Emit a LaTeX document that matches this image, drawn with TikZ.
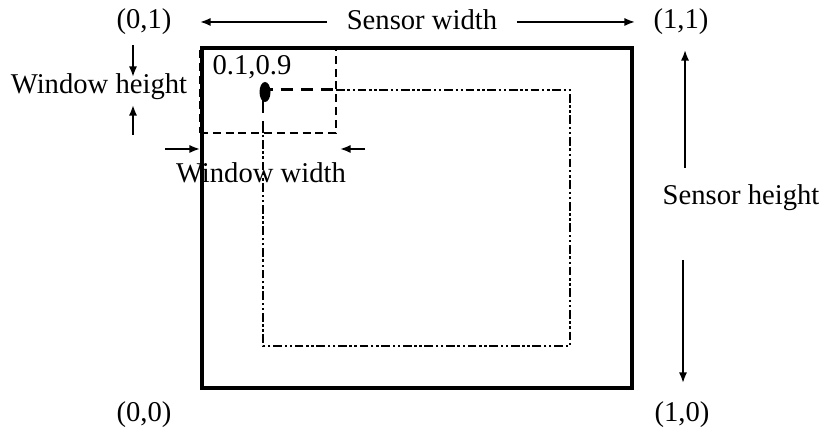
\documentclass[tikz,border=0pt]{standalone}
\usepackage{fontspec}
\setmainfont{Liberation Serif}
\usetikzlibrary{arrows.meta,positioning,calc}

\tikzset{
  lbl/.style={font=\fontsize{16.3}{19}\selectfont, inner sep=1pt},
  dimarrow/.style={-{Latex[length=6pt,width=4.6pt]}, line width=1pt},
  sensorframe/.style={draw, line width=1.9pt, inner sep=0pt, outer sep=0pt},
  windowframe/.style={draw, line width=0.8pt, dash pattern=on 4.5pt off 2.8pt, inner sep=0pt, outer sep=0pt},
  roiframe/.style={line width=1.6pt, dash pattern=on 5pt off 1.5pt on 1.4pt off 1.5pt on 1.4pt off 1.5pt},
  roistart/.style={line width=1.7pt, dash pattern=on 7pt off 4.5pt}
}

\begin{document}
\begin{tikzpicture}
\useasboundingbox (0,0) rectangle (16.38,8.76);

% ==========================================
% Sensor and window frames
% ==========================================
\node[sensorframe, minimum width=8.6cm, minimum height=6.8cm, anchor=south west] (sensor) at (4.04,1.00) {};
\node[windowframe, minimum width=2.72cm, minimum height=1.70cm, anchor=north west] (win) at (4.00,7.80) {};

% Region of interest (starts at 0.1,0.9)
\coordinate (roi) at (5.26,6.96);
\coordinate (roiend) at (11.40,1.84);
\draw[roiframe] (roi -| win.east) -- (roiend |- roi) -- (roiend) -- (roi |- roiend) -- (roi |- win.south);
\draw[roistart] (roi |- win.south) -- (roi) -- (roi -| win.east);
\fill (5.30,6.92) ellipse (0.11 and 0.2);
\node[lbl] (start) at (5.04,7.42) {0.1,0.9};

% ==========================================
% Corner labels
% ==========================================
\node[lbl] (c01) at (2.88,8.32) {(0,1)};
\node[lbl] (c11) at (13.62,8.32) {(1,1)};
\node[lbl] (c00) at (2.88,0.46) {(0,0)};
\node[lbl] (c10) at (13.64,0.46) {(1,0)};

% ==========================================
% Sensor dimensions
% ==========================================
\node[lbl, inner xsep=11pt] (sw) at (8.44,8.36) {Sensor width};
\coordinate (swleft) at (4.00,8.32);
\coordinate (swright) at (12.70,8.32);
\draw[dimarrow] (sw.west |- swleft) -- (swleft);
\draw[dimarrow] (sw.east |- swright) -- (swright);

\node[lbl] (sh) at (14.82,4.80) {Sensor height};
\coordinate (shtop) at (13.70,7.76);
\coordinate (shbot) at (13.66,1.10);
\draw[dimarrow] (13.70,5.40) coordinate (shup) -- (shtop);
\draw[dimarrow] (13.66,3.56) coordinate (shdown) -- (shbot);

% ==========================================
% Window dimensions
% ==========================================
\node[lbl] (wh) at (1.98,7.02) {Window height};
\coordinate (whtop) at (2.66,7.86);
\coordinate (whbot) at (2.66,6.06);
\draw[dimarrow] (whtop) -- (2.66,7.22);
\draw[dimarrow] (whbot) -- (2.66,6.66);

\node[lbl] (ww) at (5.22,5.30) {Window width};
\coordinate (wwleft) at (3.30,5.78);
\coordinate (wwright) at (7.30,5.78);
\draw[dimarrow] (wwleft) -- (win.west |- wwleft);
\draw[dimarrow] (wwright) -- ([xshift=0.8mm]win.east |- wwright);

\end{tikzpicture}
\end{document}
